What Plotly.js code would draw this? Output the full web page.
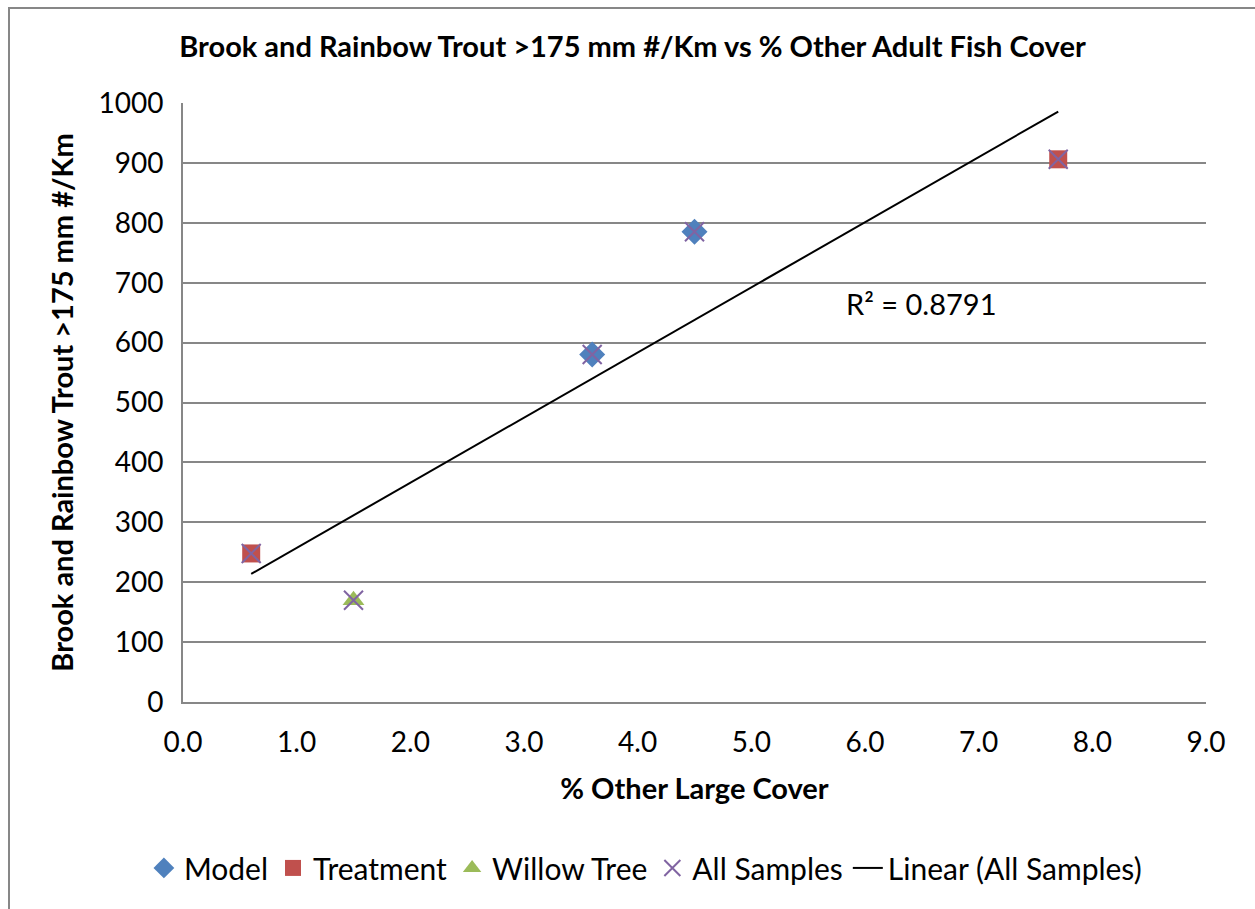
<!DOCTYPE html>
<html>
<head>
<meta charset="utf-8">
<script src="https://cdn.plot.ly/plotly-3.0.1.min.js"></script>
<style>
html,body{margin:0;padding:0;background:#fff;}
#wrap{position:relative;width:1255px;height:909px;}
#chart{position:absolute;left:0;top:0;width:1255px;height:909px;}
#frame{position:absolute;left:8px;top:7px;width:1260px;height:920px;border-left:2px solid #878787;border-top:2px solid #878787;pointer-events:none;}
</style>
</head>
<body>
<div id="wrap"><div id="chart"></div><div id="frame"></div></div>
<script>
// Data
const modelX = [3.6, 4.5];
const modelY = [580, 785];
const treatmentX = [0.6, 7.7];
const treatmentY = [248, 906];
const willowX = [1.5];
const willowY = [170];
const allX = [0.6, 1.5, 3.6, 4.5, 7.7];
const allY = [248, 170, 580, 785, 906];
const r2Text = "R² = 0.8791";

// Least-squares trend line over All Samples
const n = allX.length;
const mx = allX.reduce((a,b)=>a+b,0)/n;
const my = allY.reduce((a,b)=>a+b,0)/n;
let sxy=0, sxx=0;
for(let i=0;i<n;i++){sxy+=(allX[i]-mx)*(allY[i]-my);sxx+=(allX[i]-mx)**2;}
const slope = sxy/sxx, intercept = my - slope*mx;
const xMin = Math.min(...allX), xMax = Math.max(...allX);
const trendX = [xMin, xMax];
const trendY = trendX.map(x=>intercept+slope*x);

const FONT = 'Lato, "Open Sans", sans-serif';

const traces = [
  {x:modelX,y:modelY,mode:'markers',type:'scatter',name:'Model',
   marker:{symbol:'diamond',size:20,color:'#4F81BD'}},
  {x:treatmentX,y:treatmentY,mode:'markers',type:'scatter',name:'Treatment',
   marker:{symbol:'square',size:18,color:'#C0504D'}},
  {x:willowX,y:willowY,mode:'markers',type:'scatter',name:'Willow Tree',
   marker:{symbol:'triangle-up',size:19,color:'#9BBB59'}},
  {x:allX,y:allY,mode:'markers',type:'scatter',name:'All Samples',
   marker:{symbol:'x-thin-open',size:19,color:'#8064A2',line:{color:'#8064A2',width:2}}},
  {x:trendX,y:trendY,mode:'lines',type:'scatter',name:'Linear (All Samples)',
   line:{color:'#000',width:2}}
];

const layout = {
  width:1255,height:909,
  paper_bgcolor:'#fff',plot_bgcolor:'#fff',
  margin:{l:183,r:49,t:103,b:207},
  font:{family:FONT,color:'#000'},
  title:{text:'<b>Brook and Rainbow Trout >175 mm #/Km vs % Other Adult Fish Cover</b>',
    font:{size:29,family:FONT,color:'#000'},x:(172+1093)/2/1255,xanchor:'center',xref:'container',
    y:1-47/909,yanchor:'middle'},
  xaxis:{range:[0,9],dtick:1,tick0:0,tickformat:'.1f',showgrid:false,
    showline:true,linecolor:'#878787',linewidth:2,zeroline:false,ticks:'',
    tickfont:{size:28,family:FONT},ticklabelstandoff:14,
    title:{text:'<b>% Other Large Cover</b>',font:{size:29,family:FONT},standoff:22}},
  yaxis:{range:[0,1000],dtick:100,tick0:0,showgrid:true,gridcolor:'#878787',gridwidth:2,
    showline:true,linecolor:'#878787',linewidth:2,zeroline:false,ticks:'',
    tickfont:{size:28,family:FONT},ticklabelstandoff:12,
    title:{text:'<b>Brook and Rainbow Trout >175 mm #/Km</b>',font:{size:29,family:FONT},standoff:16}},
  legend:{orientation:'h',x:0.452,xanchor:'center',y:-0.277,yanchor:'middle',
    font:{size:30,family:FONT},itemwidth:30,tracegroupgap:0,bgcolor:'rgba(0,0,0,0)'},
  annotations:[{x:6.49,y:666,xref:'x',yref:'y',text:r2Text,showarrow:false,
    font:{size:29,family:FONT,color:'#000'},xanchor:'center',yanchor:'middle'}],
  showlegend:true
};

Plotly.newPlot('chart',traces,layout,{displayModeBar:false,staticPlot:true});
</script>
</body>
</html>
